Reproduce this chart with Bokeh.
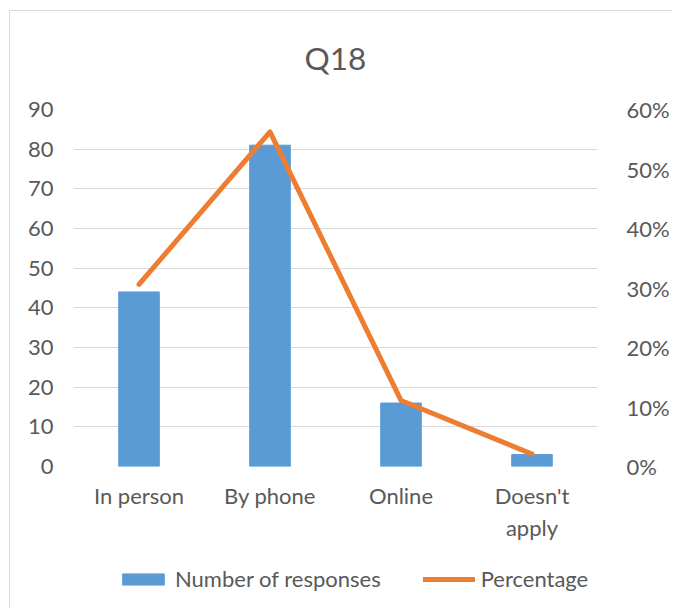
from bokeh.plotting import figure
from bokeh.layouts import column
from bokeh.models import (Range1d, LinearAxis, FixedTicker, Legend, LegendItem,
                          NumeralTickFormatter, FactorRange)
from bokeh.embed import file_html
from bokeh.resources import INLINE

categories = ["In person", "By phone", "Online", "Doesn't\napply"]
responses = [44, 81, 16, 3]
percentages = [0.306, 0.5625, 0.111, 0.021]
left_ticks = [0, 10, 20, 30, 40, 50, 60, 70, 80, 90]
right_ticks = [0, 0.1, 0.2, 0.3, 0.4, 0.5, 0.6]

FONT = "Lato"
GREY = "#595959"
FS = "22px"
BAR_COLOR = "#5B9BD5"
LINE_COLOR = "#ED7D31"
W = 672

p = figure(x_range=FactorRange(*categories), y_range=Range1d(0, 90),
           width=W, height=553, output_backend="svg", toolbar_location=None,
           title="Q18", min_border_left=73, min_border_right=W - 604,
           min_border_top=109, min_border_bottom=87,
           border_fill_color=None)
p.extra_y_ranges = {"pct": Range1d(0, 0.6)}

p.title.align = "center"
p.title.text_font = FONT
p.title.text_font_size = "31.5px"
p.title.text_font_style = "normal"
p.title.text_color = GREY
p.title.standoff = 65

p.vbar(x=categories, top=responses, width=0.31, color=BAR_COLOR)
p.line(x=categories, y=percentages, y_range_name="pct",
       line_color=LINE_COLOR, line_width=5, line_cap="round", line_join="round")

p.outline_line_color = None
p.xgrid.grid_line_color = None
p.ygrid.grid_line_color = "#d9d9d9"
p.ygrid.grid_line_width = 1.2
p.yaxis.ticker = FixedTicker(ticks=left_ticks)

right = LinearAxis(y_range_name="pct", ticker=FixedTicker(ticks=right_ticks),
                   formatter=NumeralTickFormatter(format="0%"))
p.add_layout(right, "right")

for ax in [p.xaxis[0], p.yaxis[0], right]:
    ax.axis_line_color = None
    ax.major_tick_line_color = None
    ax.minor_tick_line_color = None
    ax.major_label_text_font = FONT
    ax.major_label_text_font_size = FS
    ax.major_label_text_color = GREY

p.yaxis[0].major_label_standoff = 14
right.major_label_standoff = 23
p.xaxis[0].major_label_standoff = 9

# Legend strip below the chart (legend proxies, not drawn)
lf = figure(width=W, height=55, output_backend="svg", toolbar_location=None,
            x_range=Range1d(0, 1), y_range=Range1d(0, 1),
            x_axis_location=None, y_axis_location=None,
            min_border=0, border_fill_color=None)
lf.grid.grid_line_color = None
lf.outline_line_color = None
lb = lf.vbar(x=[0.5], top=[0.5], width=0.1, color=BAR_COLOR, visible=False)
ll = lf.line(x=[0.4, 0.6], y=[0.5, 0.5], line_color=LINE_COLOR, line_width=5,
             line_cap="round", visible=False)
legend = Legend(items=[LegendItem(label="Number of responses", renderers=[lb]),
                       LegendItem(label="Percentage", renderers=[ll])],
                orientation="horizontal", location=(44, 16),
                label_text_font=FONT, label_text_font_size=FS,
                label_text_color=GREY, glyph_width=52, glyph_height=14,
                spacing=42, label_standoff=6, border_line_color=None,
                background_fill_alpha=0, padding=0, margin=0)
lf.add_layout(legend, "center")

layout = column(p, lf, spacing=0)
layout.styles = {"box-shadow": "inset 9px 10px 0 0 white, inset 10px 11px 0 0 #d9d9d9"}

open("out.html", "w").write(file_html(layout, INLINE))
